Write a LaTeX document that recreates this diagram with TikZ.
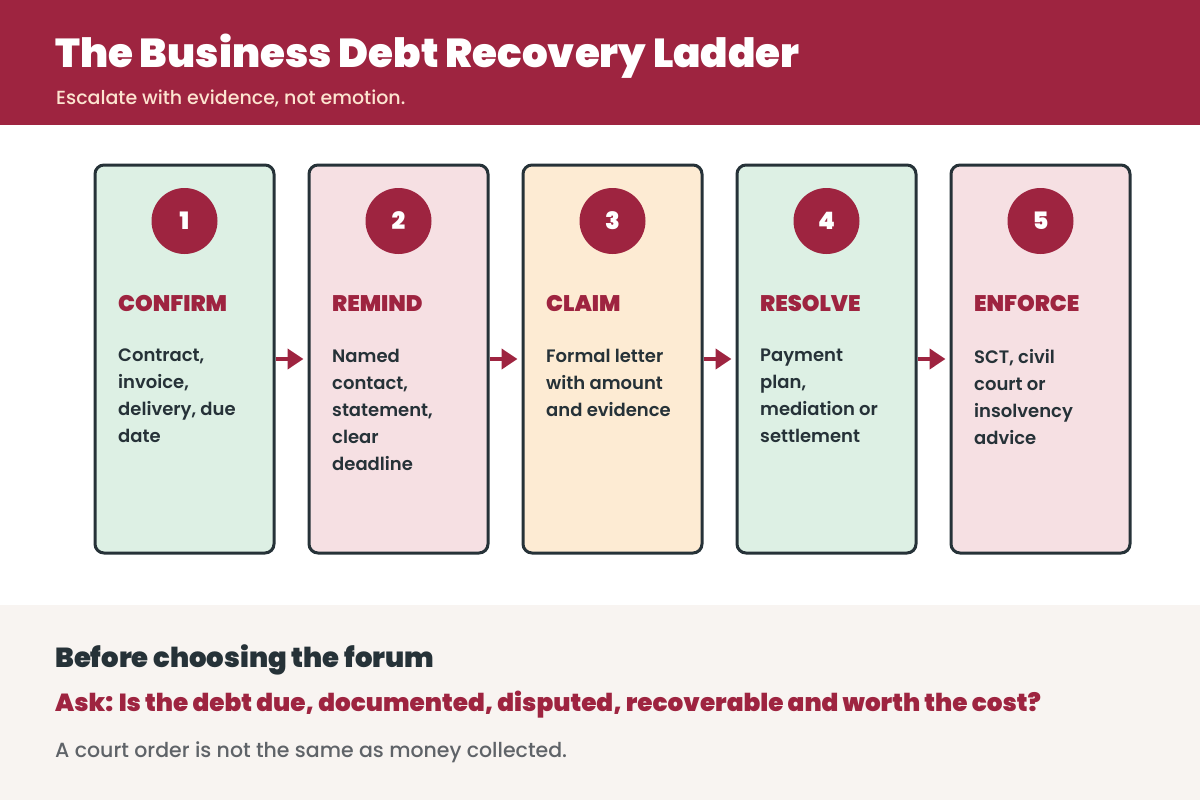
\documentclass[tikz,border=0pt]{standalone}
\usepackage{fontspec}
\setmainfont{Poppins}
\newfontfamily\psemi{Poppins SemiBold}
\newfontfamily\pmed{Poppins Medium}
\newfontfamily\pblk{Poppins Black}
\usetikzlibrary{arrows.meta}
\definecolor{wine}{HTML}{9E2440}
\definecolor{ink}{HTML}{263238}
\definecolor{peach}{HTML}{FDE4D0}
\definecolor{fgreen}{HTML}{DDF0E4}
\definecolor{fpink}{HTML}{F6E0E3}
\definecolor{forange}{HTML}{FDEBD3}
\definecolor{footbg}{HTML}{F8F4F1}
\definecolor{greytxt}{HTML}{5F6368}
\tikzset{
  card/.style={draw=ink, line width=3pt, rounded corners=9pt, minimum width=179pt, minimum height=388pt, inner sep=0pt},
  numdisc/.style={circle, fill=wine, minimum size=66pt, inner sep=0pt, text=white, font=\pblk\fontsize{24}{28}\selectfont},
  head/.style={anchor=base west, inner sep=0pt, text=wine, font=\pblk\fontsize{22.5}{26}\selectfont},
  body/.style={anchor=north west, inner sep=0pt, text=ink, align=left, font=\psemi\fontsize{18}{27}\selectfont},
  flow/.style={draw=wine, line width=4pt, -{Triangle[length=16pt,width=20pt]}}
}
\begin{document}
\begin{tikzpicture}[x=1pt,y=-1pt]
\useasboundingbox (0,0) rectangle (1200,800);
\fill[white] (0,0) rectangle (1200,800);
\fill[wine] (0,0) rectangle (1200,125);
\fill[footbg] (0,605) rectangle (1200,800);
\node[anchor=base west, inner sep=0pt, text=white, font=\pblk\fontsize{40.4}{48}\selectfont] (title) at (55,68) {The Business Debt Recovery Ladder};
\node[anchor=base west, inner sep=0pt, text=peach, font=\pmed\fontsize{19}{22}\selectfont] (sub) at (56,104) {Escalate with evidence, not emotion.};
% cards
\node[card, fill=fgreen] (b1) at (184.5,359) {};
\node[card, fill=fpink] (b2) at (398.5,359) {};
\node[card, fill=forange] (b3) at (612.5,359) {};
\node[card, fill=fgreen] (b4) at (826.5,359) {};
\node[card, fill=fpink] (b5) at (1040.5,359) {};
\node[numdisc] (n1) at (184.5,221) {1};
\node[numdisc] (n2) at (398.5,221) {2};
\node[numdisc] (n3) at (612.5,221) {3};
\node[numdisc] (n4) at (826.5,221) {4};
\node[numdisc] (n5) at (1040.5,221) {5};
\node[head] (h1) at (118,311) {CONFIRM};
\node[head] (h2) at (332,311) {REMIND};
\node[head] (h3) at (546,311) {CLAIM};
\node[head] (h4) at (760,311) {RESOLVE};
\node[head] (h5) at (974,311) {ENFORCE};
\node[body] (t1) at (118,349) {Contract,\\invoice,\\delivery, due\\date};
\node[body] (t2) at (332,349) {Named\\contact,\\statement,\\clear\\deadline};
\node[body] (t3) at (546,349) {Formal letter\\with amount\\and evidence};
\node[body] (t4) at (760,349) {Payment\\plan,\\mediation or\\settlement};
\node[body] (t5) at (974,349) {SCT, civil\\court or\\insolvency\\advice};
\draw[flow] (b1.east) -- ([xshift=-4pt]b2.west);
\draw[flow] (b2.east) -- ([xshift=-4pt]b3.west);
\draw[flow] (b3.east) -- ([xshift=-4pt]b4.west);
\draw[flow] (b4.east) -- ([xshift=-4pt]b5.west);
% footer
\node[anchor=base west, inner sep=0pt, text=ink, font=\pblk\fontsize{27.5}{30}\selectfont] (f1) at (55,667) {Before choosing the forum};
\node[anchor=base west, inner sep=0pt, text=wine, font=\pblk\fontsize{24.7}{28}\selectfont] (f2) at (55,711) {Ask: Is the debt due, documented, disputed, recoverable and worth the cost?};
\node[anchor=base west, inner sep=0pt, text=greytxt, font=\pmed\fontsize{20.5}{22}\selectfont] (f3) at (55,757) {A court order is not the same as money collected.};
\end{tikzpicture}
\end{document}
